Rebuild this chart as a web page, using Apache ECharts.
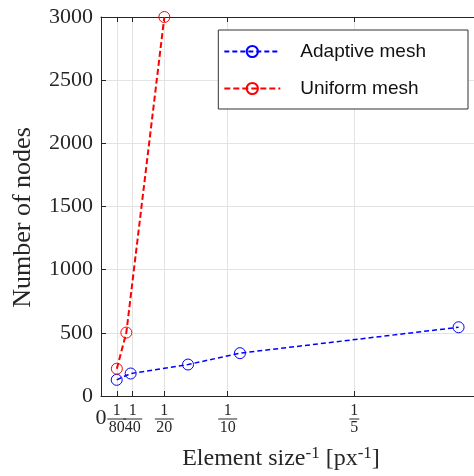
<!DOCTYPE html>
<html><head><meta charset="utf-8">
<script src="https://cdn.jsdelivr.net/npm/echarts@6/dist/echarts.min.js"></script>
<style>html,body{margin:0;padding:0;background:#fff}#c{width:474px;height:476px}</style>
</head><body><div id="c"></div>
<script>
var xTickValues = [0, 1/80, 1/40, 1/20, 1/10, 1/5];
var xTickNums = ['0', '1', '1', '1', '1', '1'];
var xTickDens = ['', '80', '40', '20', '10', '5'];
var yTicks = [0, 500, 1000, 1500, 2000, 2500, 3000];

var adaptiveX = [0.0124, 0.0234, 0.0687, 0.1097, 0.2823];
var adaptiveY = [128, 178, 249, 339, 544];
var uniformX = [0.0125, 0.02, 0.05];
var uniformY = [216, 502, 3000];

function pairs(xs, ys){ return xs.map(function(x,i){ return [x, ys[i]]; }); }

var serif = '"Liberation Serif", "DejaVu Serif", serif';
var axisCol = '#262626';

var chart = echarts.init(document.getElementById('c'), null, {renderer:'canvas'});
chart.setOption({
  animation: false,
  backgroundColor: '#fff',
  grid: {left: 101, top: 17, width: 380, height: 379, containLabel: false, outerBoundsMode: 'none'},
  legend: {
    right: 6, top: 30, orient: 'vertical',
    backgroundColor: '#fff', borderColor: '#333', borderWidth: 1,
    padding: [12, 42, 11, 5],
    itemWidth: 56, itemHeight: 14, itemGap: 18,
    textStyle: {fontFamily: '"Liberation Sans", Arial, sans-serif', fontSize: 19, color: '#111', padding: [0,0,0,15]},
    data: ['Adaptive mesh', 'Uniform mesh']
  },
  xAxis: [{
    type: 'value', min: 0, max: 0.3, position: 'bottom',
    name: 'Element size{sup|-1} [px{sup|-1}]',
    nameLocation: 'middle', nameGap: 49,
    nameTextStyle: {fontFamily: serif, fontSize: 24, color: axisCol, padding: [0, 20, 0, 0],
      rich: {sup: {fontFamily: serif, fontSize: 17, verticalAlign: 'top', padding: [0,0,10,0], color: axisCol}}},
    axisLine: {show: true, lineStyle: {color: axisCol, width: 1}},
    axisTick: {show: true, inside: true, length: 5, customValues: xTickValues, lineStyle: {color: axisCol}},
    splitLine: {show: true, lineStyle: {color: '#e3e3e3', width: 1}},
    axisLabel: {
      customValues: xTickValues, margin: 7, hideOverlap: false, showMinLabel: true,
      formatter: function(v){
        var i = xTickValues.findIndex(function(t){ return Math.abs(t - v) < 1e-9; });
        if (i < 0) return '';
        if (i === 0) return '{z|' + xTickNums[0] + '}';
        return '{n|' + xTickNums[i] + '}\n{bar' + xTickDens[i].length + '|}\n{d|' + xTickDens[i] + '}';
      },
      rich: {
        z: {fontFamily: serif, fontSize: 22, color: axisCol, padding: [4, 0, 0, 0]},
        n: {fontFamily: serif, fontSize: 16, color: axisCol, lineHeight: 15, align: 'center'},
        d: {fontFamily: serif, fontSize: 16, color: axisCol, lineHeight: 16, align: 'center'},
        bar1: {width: 10, height: 1, lineHeight: 2, backgroundColor: axisCol, align: 'center'},
        bar2: {width: 19, height: 1, lineHeight: 2, backgroundColor: axisCol, align: 'center'}
      }
    }
  }, {
    type: 'value', min: 0, max: 0.3, position: 'top',
    axisLine: {show: true, lineStyle: {color: axisCol, width: 1}},
    axisTick: {show: true, inside: true, length: 5, customValues: xTickValues, lineStyle: {color: axisCol}},
    axisLabel: {show: false}, splitLine: {show: false}
  }],
  yAxis: {
    type: 'value', min: 0, max: 3000, interval: 500,
    name: 'Number of nodes', nameLocation: 'middle', nameGap: 65,
    nameTextStyle: {fontFamily: serif, fontSize: 26, color: axisCol, padding: [0, 22, 0, 0]},
    axisLine: {show: true, lineStyle: {color: axisCol, width: 1}},
    axisTick: {show: true, inside: true, length: 5, lineStyle: {color: axisCol}},
    splitLine: {show: true, lineStyle: {color: '#e3e3e3', width: 1}},
    axisLabel: {fontFamily: serif, fontSize: 22, color: axisCol, margin: 8,
      formatter: function(v){ return String(v); }}
  },
  series: [{
    name: 'Adaptive mesh', type: 'line', data: pairs(adaptiveX, adaptiveY),
    symbol: 'circle', symbolSize: 11, clip: false,
    lineStyle: {color: '#0000ff', width: 1.5, type: [5, 3]},
    itemStyle: {color: 'rgba(255,255,255,0)', borderColor: '#0000ff', borderWidth: 1}
  }, {
    name: 'Uniform mesh', type: 'line', data: pairs(uniformX, uniformY),
    symbol: 'circle', symbolSize: 11, clip: false,
    lineStyle: {color: '#ff0000', width: 2, type: [6, 3]},
    itemStyle: {color: 'rgba(255,255,255,0)', borderColor: '#ff0000', borderWidth: 1}
  }]
});
</script></body></html>
